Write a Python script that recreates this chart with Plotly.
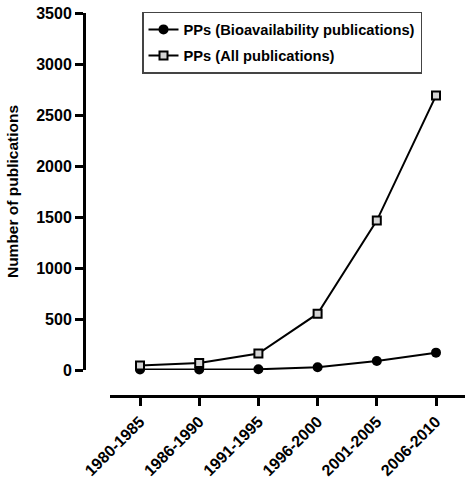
import plotly.graph_objects as go

categories = ["1980-1985", "1986-1990", "1991-1995", "1996-2000", "2001-2005", "2006-2010"]
bio_pubs = [5, 5, 7, 27, 88, 170]
all_pubs = [45, 68, 162, 552, 1465, 2690]
y_ticks = [0, 500, 1000, 1500, 2000, 2500, 3000, 3500]

W, H = 465, 479
left, right, top, bottom = 84, 465, 13, 396
plot_h = bottom - top
plot_w = right - left
y_zero_px = 370
x_axis_start_px = 110
first_tick_px = 140
spacing = 59.2

FAM = "Arial, Liberation Sans, sans-serif"

fig = go.Figure()
fig.add_trace(go.Scatter(
    x=categories, y=bio_pubs, xaxis="x2", yaxis="y",
    mode="lines+markers", name="PPs (Bioavailability publications)",
    legendgroup="a",
    line=dict(color="black", width=2),
    marker=dict(symbol="circle", size=10, color="black"),
    cliponaxis=False,
))
fig.add_trace(go.Scatter(
    x=categories, y=all_pubs, xaxis="x2", yaxis="y",
    mode="lines+markers", name="PPs (All publications)",
    legendgroup="b",
    line=dict(color="black", width=2),
    marker=dict(symbol="square", size=8, color="#d4d4d4",
                line=dict(color="black", width=2)),
    cliponaxis=False,
))

d2 = (x_axis_start_px - left) / plot_w
rmin = -(first_tick_px - x_axis_start_px) / spacing
rmax = rmin + (right - x_axis_start_px) / spacing

fig.update_layout(
    width=W, height=H,
    margin=dict(l=left, r=W - right, t=top, b=H - bottom, autoexpand=False),
    paper_bgcolor="white", plot_bgcolor="white",
    font=dict(family=FAM, size=16, color="black"),
    showlegend=True,
    legend=dict(
        x=(142 - left) / plot_w, y=1.003, xanchor="left", yanchor="top",
        bordercolor="#444", borderwidth=1.5, bgcolor="white",
        font=dict(family=FAM, size=14.7, color="black", weight="bold"),
        tracegroupgap=4, itemwidth=30,
    ),
    xaxis=dict(domain=[0, 1], visible=False, range=[0, 1], automargin=False),
    xaxis2=dict(
        domain=[d2, 1], anchor="free", position=0, automargin=False,
        type="category", categoryorder="array", categoryarray=categories,
        range=[rmin, rmax],
        showline=True, linecolor="black", linewidth=3,
        ticks="outside", ticklen=8, tickwidth=3, tickcolor="black",
        tickangle=-45, showgrid=False, zeroline=False,
        tickfont=dict(family=FAM, size=16, color="black", weight="bold"),
    ),
    yaxis=dict(
        domain=[(bottom - y_zero_px) / plot_h, 1], anchor="free", position=0,
        automargin=False,
        range=[0, 3500], tickvals=y_ticks,
        showline=True, linecolor="black", linewidth=3,
        ticks="outside", ticklen=8, tickwidth=3, tickcolor="black",
        showgrid=False, zeroline=False,
        tickfont=dict(family=FAM, size=16, color="black", weight="bold"),
        title=dict(text="Number of publications", standoff=12,
                   font=dict(family=FAM, size=15.5, color="black", weight="bold")),
    ),
)

fig.write_html("out.html")
